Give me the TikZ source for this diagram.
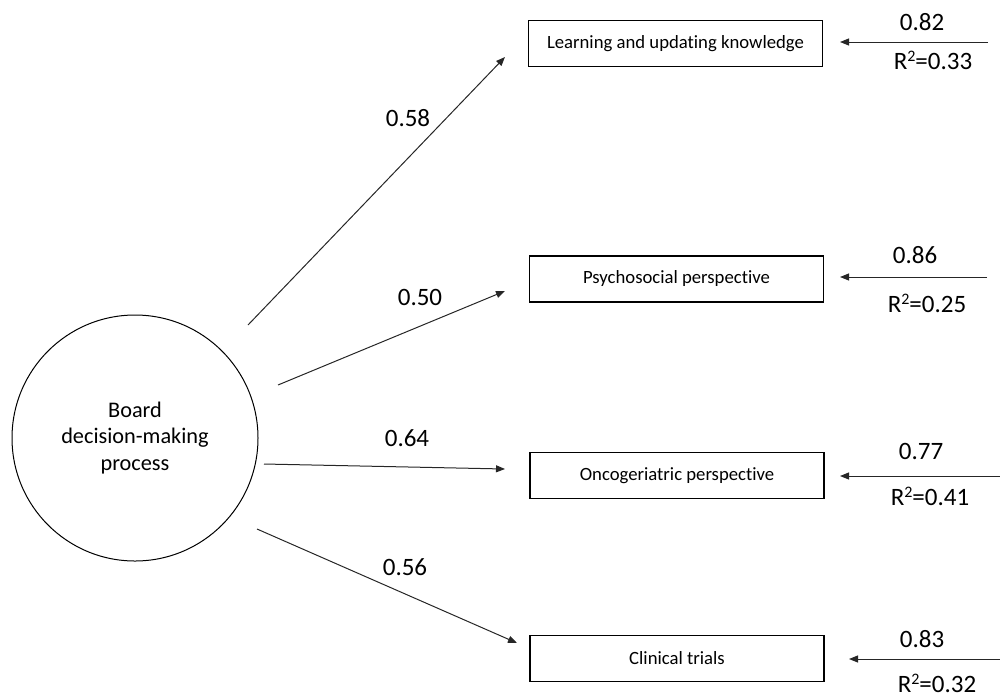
\documentclass[tikz,border=0pt]{standalone}
\usepackage{fontspec}
\setmainfont{Carlito}[Ligatures=NoCommon]
\usetikzlibrary{arrows.meta}
\newcommand{\rsq}{R\raisebox{0.32em}{\fontsize{16}{16}\selectfont 2}}
\begin{document}
\begin{tikzpicture}[x=1pt,y=-1pt,
  box/.style={draw, line width=1.2pt, minimum width=294pt, minimum height=46pt, inner sep=0pt, font=\fontsize{18.7}{22}\selectfont},
  lbl/.style={font=\fontsize{25}{28}\selectfont, inner sep=0pt},
  link/.style={line width=1pt, draw=black!85, -{Triangle[length=9pt,width=7pt]}},
  ]
\useasboundingbox (0,0) rectangle (1000,697);
\node[circle, draw, line width=1pt, minimum size=246pt, inner sep=0pt, align=center, font=\fontsize{22.3}{26.5}\selectfont] (c) at (135,438) {Board\\decision-making\\process};

\node[box] (b1) at (675.5,43.5) {Learning and updating knowledge};
\node[box] (b2) at (676.5,279) {Psychosocial perspective\hspace{22pt}};
\node[box] (b3) at (677,475.5) {Oncogeriatric perspective\hspace{26pt}};
\node[box] (b4) at (677,658.5) {Clinical trials\hspace{14pt}};

\coordinate (s1) at (248,325); \coordinate (t1) at (505,57);
\coordinate (s2) at (278,385); \coordinate (t2) at (505,291);
\coordinate (s3) at (264,464); \coordinate (t3) at (505,469);
\coordinate (s4) at (257,529); \coordinate (t4) at (517,643);
\draw[link] (s1) -- (t1);
\draw[link] (s2) -- (t2);
\draw[link] (s3) -- (t3);
\draw[link] (s4) -- (t4);

\node[lbl] (l1) at (408,118) {0.58};
\node[lbl] (l2) at (420,297) {0.50};
\node[lbl] (l3) at (407,438) {0.64};
\node[lbl] (l4) at (405,567) {0.56};

\coordinate (r1) at (988,42);  \coordinate (q1) at (840,42);
\coordinate (r2) at (987,277); \coordinate (q2) at (840,277);
\coordinate (r3) at (1000,476); \coordinate (q3) at (840,476);
\coordinate (r4) at (1000,659); \coordinate (q4) at (849,659);
\draw[link] (r1) -- (q1);
\draw[link] (r2) -- (q2);
\draw[link] (r3) -- (q3);
\draw[link] (r4) -- (q4);

\node[lbl] (e1) at (922,22) {0.82};
\node[lbl] (f1) at (933,60) {\rsq=0.33};
\node[lbl] (e2) at (915,255) {0.86};
\node[lbl] (f2) at (927,303) {\rsq=0.25};
\node[lbl] (e3) at (921,451) {0.77};
\node[lbl] (f3) at (930,496) {\rsq=0.41};
\node[lbl] (e4) at (922,639) {0.83};
\node[lbl] (f4) at (937,683) {\rsq=0.32};
\end{tikzpicture}
\end{document}
